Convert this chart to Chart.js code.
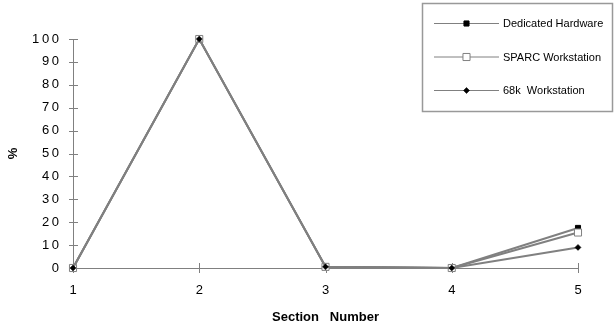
<!DOCTYPE html>
<html>
<head>
<meta charset="utf-8">
<script src="https://cdn.jsdelivr.net/npm/chart.js@4/dist/chart.umd.min.js"></script>
<style>
  html, body { margin: 0; padding: 0; background: #fff; }
  #wrap { width: 615px; height: 331px; position: relative; }
</style>
</head>
<body>
<div id="wrap"><canvas id="c" width="615" height="331"></canvas></div>
<script>
// Section numbers along the x axis
const sections = ['1', '2', '3', '4', '5'];
// Percentage per section for each platform
const dedicatedHardware = [0, 100, 0.5, 0, 17.5];
const sparcWorkstation = [0, 100, 0.5, 0, 15.5];
const m68kWorkstation = [0, 100, 0.5, 0, 9];
// Y axis tick values
const yTicks = [0, 10, 20, 30, 40, 50, 60, 70, 80, 90, 100];
const seriesNames = ['Dedicated Hardware', 'SPARC Workstation', '68k  Workstation'];

const FONT = "'Liberation Sans', Arial, sans-serif";
const GREY = '#808080';

// Short tick marks crossing both axes, plus the boxed legend
const axisMarks = {
  id: 'axisMarks',
  beforeDatasetsDraw(chart) {
    const ctx = chart.ctx;
    const xs = chart.scales.x, ys = chart.scales.y;
    const a = chart.chartArea;
    ctx.save();
    ctx.strokeStyle = GREY;
    ctx.lineWidth = 1;
    ctx.beginPath();
    yTicks.forEach(v => {
      const y = Math.round(ys.getPixelForValue(v)) + 0.5;
      ctx.moveTo(a.left - 4, y);
      ctx.lineTo(a.left + 5, y);
    });
    sections.forEach((s, i) => {
      const x = Math.round(xs.getPixelForValue(i)) + 0.5;
      ctx.moveTo(x, a.bottom - 5);
      ctx.lineTo(x, a.bottom + 5);
    });
    ctx.stroke();
    ctx.restore();
  },
  afterDraw(chart) {
    const ctx = chart.ctx;
    ctx.save();
    ctx.strokeStyle = '#999';
    ctx.lineWidth = 1.5;
    ctx.strokeRect(422.5, 3.5, 190, 108);
    const rows = [23, 56.5, 90];
    chart.data.datasets.forEach((ds, i) => {
      const y = rows[i];
      ctx.strokeStyle = GREY;
      ctx.lineWidth = 1;
      ctx.beginPath();
      ctx.moveTo(434, y + 0.5);
      ctx.lineTo(499, y + 0.5);
      ctx.stroke();
      ctx.fillStyle = ds.pointBackgroundColor;
      ctx.strokeStyle = ds.pointBorderColor;
      ctx.lineWidth = ds.pointBorderWidth;
      Chart.helpers.drawPoint(ctx, {
        pointStyle: ds.pointStyle,
        radius: ds.pointRadius,
        borderWidth: ds.pointBorderWidth,
        rotation: 0
      }, 466.5, y + 0.5);
      ctx.fillStyle = '#000';
      ctx.font = '11px ' + FONT;
      ctx.textBaseline = 'middle';
      ctx.textAlign = 'left';
      ctx.fillText(ds.label, 503, y + 1);
    });
    ctx.restore();
  }
};

new Chart(document.getElementById('c'), {
  type: 'line',
  data: {
    labels: sections,
    datasets: [
      {
        label: seriesNames[0],
        data: dedicatedHardware,
        borderColor: GREY,
        borderWidth: 2,
        pointStyle: 'rect',
        pointRadius: 3.6,
        pointBackgroundColor: '#000',
        pointBorderColor: '#000',
        pointBorderWidth: 1,
        order: 2,
        clip: false
      },
      {
        label: seriesNames[1],
        data: sparcWorkstation,
        borderColor: GREY,
        borderWidth: 2,
        pointStyle: 'rect',
        pointRadius: 5,
        pointBackgroundColor: '#fff',
        pointBorderColor: GREY,
        pointBorderWidth: 1,
        order: 1,
        clip: false
      },
      {
        label: seriesNames[2],
        data: m68kWorkstation,
        borderColor: GREY,
        borderWidth: 2,
        pointStyle: 'rectRot',
        pointRadius: 3,
        pointBackgroundColor: '#000',
        pointBorderColor: '#000',
        pointBorderWidth: 0.5,
        order: 0,
        clip: false
      }
    ]
  },
  options: {
    responsive: false,
    animation: false,
    devicePixelRatio: 1,
    layout: { padding: { left: 6, right: 37, top: 39, bottom: 5 } },
    plugins: {
      legend: { display: false },
      tooltip: { enabled: false }
    },
    elements: { line: { tension: 0 } },
    scales: {
      x: {
        type: 'category',
        offset: false,
        grid: { display: false, drawTicks: false },
        border: { display: true, color: GREY, width: 1 },
        ticks: { color: '#000', font: { family: FONT, size: 13 }, padding: 15, maxRotation: 0 },
        title: {
          display: true,
          text: 'Section   Number',
          color: '#000',
          font: { family: FONT, size: 13, weight: 'bold' },
          padding: { top: 0, bottom: 1 }
        },
        afterFit(s) { s.height = 58; }
      },
      y: {
        min: 0,
        max: 100,
        grid: { display: false, drawTicks: false },
        border: { display: true, color: GREY, width: 1 },
        ticks: {
          stepSize: 10,
          color: '#000',
          font: { family: FONT, size: 13 },
          padding: 14,
          callback: v => String(v).split('').join('\u2009')
        },
        title: {
          display: true,
          text: '%',
          color: '#000',
          font: { family: FONT, size: 13, weight: 'bold' },
          padding: { top: 0, bottom: 0 }
        },
        afterFit(s) { s.width = 67; }
      }
    }
  },
  plugins: [axisMarks]
});
</script>
</body>
</html>
